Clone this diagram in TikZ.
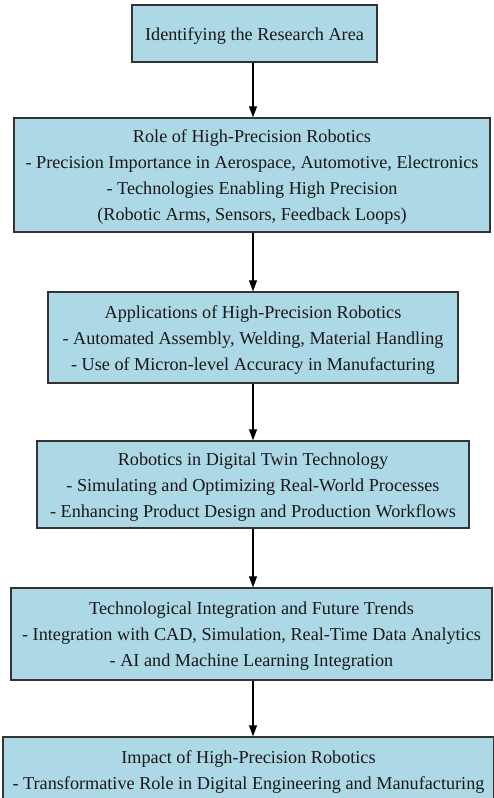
\documentclass[tikz,border=0pt]{standalone}
\usepackage{fontspec}
\setmainfont{Liberation Serif}
\usetikzlibrary{arrows.meta}
\definecolor{boxfill}{HTML}{ADD8E6}
\definecolor{boxline}{HTML}{333333}
\begin{document}
\begin{tikzpicture}[x=1pt,y=-1pt,
  stage/.style={draw=boxline,line width=1.4pt,fill=boxfill,inner sep=0pt},
  stagetext/.style={inner sep=0pt,align=center,
    font=\fontsize{18.2}{26}\selectfont,text=black!90,yshift=-2.5pt},
  flow/.style={line width=1.2pt,-{Triangle[length=11pt,width=8pt]}}]
\useasboundingbox (0,0) rectangle (494,798);
\fill[white] (0,0) rectangle (494,798);
% boxes
\node[stage,minimum width=245pt,minimum height=57pt] (s1) at (254.5,33.5) {};
\node[stage,minimum width=476pt,minimum height=114pt] (s2) at (252,175) {};
\node[stage,minimum width=410pt,minimum height=91pt] (s3) at (253,337.5) {};
\node[stage,minimum width=432pt,minimum height=87pt] (s4) at (253,484.5) {};
\node[stage,minimum width=481pt,minimum height=92pt] (s5) at (251.5,634) {};
\node[stage,minimum width=491pt,minimum height=70pt] (s6) at (248.5,772) {};
% texts
\node[stagetext] (t1) at (s1.center) {Identifying the Research Area};
\node[stagetext] (t2) at (s2.center)
  {Role of High-Precision Robotics\\
   - Precision Importance in Aerospace, Automotive, Electronics\\
   - Technologies Enabling High Precision\\
   (Robotic Arms, Sensors, Feedback Loops)};
\node[stagetext] (t3) at (s3.center)
  {Applications of High-Precision Robotics\\
   - Automated Assembly, Welding, Material Handling\\
   - Use of Micron-level Accuracy in Manufacturing};
\node[stagetext] (t4) at (s4.center)
  {Robotics in Digital Twin Technology\\
   - Simulating and Optimizing Real-World Processes\\
   - Enhancing Product Design and Production Workflows};
\node[stagetext] (t5) at (s5.center)
  {Technological Integration and Future Trends\\
   - Integration with CAD, Simulation, Real-Time Data Analytics\\
   - AI and Machine Learning Integration};
\node[stagetext,yshift=2.5pt] (t6) at (s6.center)
  {Impact of High-Precision Robotics\\
   - Transformative Role in Digital Engineering and Manufacturing};
% connectors
\foreach \a/\b in {s1/s2,s2/s3,s3/s4,s4/s5,s5/s6}
  \draw[flow] (\a.south -| 253,0) -- (\b.north -| 253,0);
\end{tikzpicture}
\end{document}
